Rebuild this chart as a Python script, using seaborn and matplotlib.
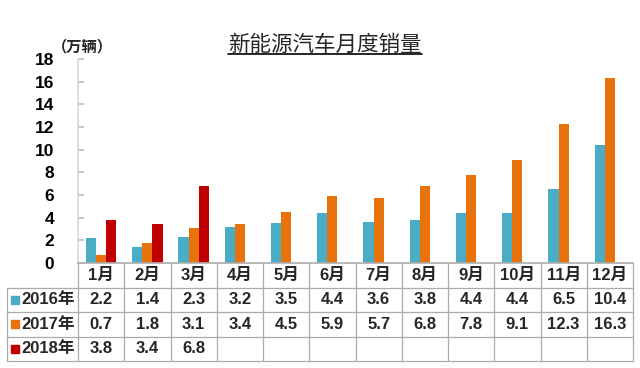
import numpy as np
import pandas as pd
import matplotlib
matplotlib.use("Agg")
import matplotlib.pyplot as plt
import seaborn as sns
from matplotlib.lines import Line2D

months = ["1月", "2月", "3月", "4月", "5月", "6月", "7月", "8月", "9月", "10月", "11月", "12月"]
years = ["2016年", "2017年", "2018年"]
sales_2016 = [2.2, 1.4, 2.3, 3.2, 3.5, 4.4, 3.6, 3.8, 4.4, 4.4, 6.5, 10.4]
sales_2017 = [0.7, 1.8, 3.1, 3.4, 4.5, 5.9, 5.7, 6.8, 7.8, 9.1, 12.3, 16.3]
sales_2018 = [3.8, 3.4, 6.8]
colors = ["#4BACC6", "#E8720C", "#C00000"]
yticks = [0, 2, 4, 6, 8, 10, 12, 14, 16, 18]

series = [sales_2016, sales_2017, sales_2018]
rows = []
for yr, vals in zip(years, series):
    for i, m in enumerate(months):
        v = vals[i] if i < len(vals) else np.nan
        rows.append({"month": m, "year": yr, "value": v})
df = pd.DataFrame(rows)

sns.set_theme(style="white")
plt.rcParams["font.family"] = ["Liberation Sans", "Noto Sans CJK SC", "DejaVu Sans"]

W, H = 640, 368
fig = plt.figure(figsize=(W / 100, H / 100), dpi=100)
ax_l, ax_r, ax_t, ax_b = 78, 633, 59, 263
ax = fig.add_axes([ax_l / W, 1 - ax_b / H, (ax_r - ax_l) / W, (ax_b - ax_t) / H])

sns.barplot(data=df, x="month", y="value", hue="year", order=months, hue_order=years,
            palette=colors, width=0.66, gap=0, ax=ax, legend=False, saturation=1,
            edgecolor="none")
ax.set_xlim(-0.5, 11.5)
ax.set_ylim(0, 18)
ax.set_yticks(yticks)
ax.set_yticklabels([str(t) for t in yticks], fontsize=12.5, fontweight="bold", color="black")
ax.tick_params(axis="y", direction="in", length=4, color="#BFBFBF", pad=17, left=True)
ax.set_xticks([])
ax.set_xlabel("")
ax.set_ylabel("")
for s in ["top", "right"]:
    ax.spines[s].set_visible(False)
ax.spines["left"].set_color("#D9D9D9")
ax.spines["bottom"].set_color("#B0B0B0")

# table area
tb_l, tb_r, tb_t, tb_b = 7, 633, 263, 361
tax = fig.add_axes([tb_l / W, 1 - tb_b / H, (tb_r - tb_l) / W, (tb_b - tb_t) / H])
unit = (ax_r - ax_l) / 12.0
xmin = -0.5 - (ax_l - tb_l) / unit
tax.set_xlim(xmin, 11.5)
tax.set_ylim(4, 0)
tax.axis("off")
gc = "#ABABAB"
lw = 0.9
for i in range(13):
    tax.plot([-0.5 + i, -0.5 + i], [0, 4], color=gc, lw=lw, clip_on=False)
tax.plot([xmin, xmin], [1, 4], color=gc, lw=lw, clip_on=False)
for yy in [1, 2, 3, 4]:
    tax.plot([xmin, 11.5], [yy, yy], color=gc, lw=lw, clip_on=False)

fs = 12
for i, m in enumerate(months):
    tax.text(i, 0.5, m, ha="center", va="center", fontsize=fs, fontweight="bold")
for r, (yr, vals, c) in enumerate(zip(years, series, colors)):
    yc = r + 1.5
    tax.plot([xmin + 0.17], [yc], marker="s", ms=6, color=c, clip_on=False)
    tax.text(xmin + 0.32, yc, yr, ha="left", va="center", fontsize=fs, fontweight="bold")
    for i, v in enumerate(vals):
        tax.text(i, yc, f"{v:.1f}", ha="center", va="center", fontsize=fs, fontweight="bold")

# title and unit
t = fig.text(0.508, 1 - 45 / H, "新能源汽车月度销量", ha="center", va="center",
             fontsize=15.5, family=["Noto Sans CJK SC"], fontweight="medium")
fig.text(82 / W, 1 - 46 / H, "（万辆）", ha="center", va="center", fontsize=11,
         fontweight="bold", family=["Noto Sans CJK SC"])
fig.canvas.draw()
bb = t.get_window_extent()
fig.add_artist(Line2D([bb.x0 / W, bb.x1 / W], [1 - 54 / H, 1 - 54 / H],
                      transform=fig.transFigure, color="black", lw=1.2))

fig.savefig("out.png", dpi=100)
